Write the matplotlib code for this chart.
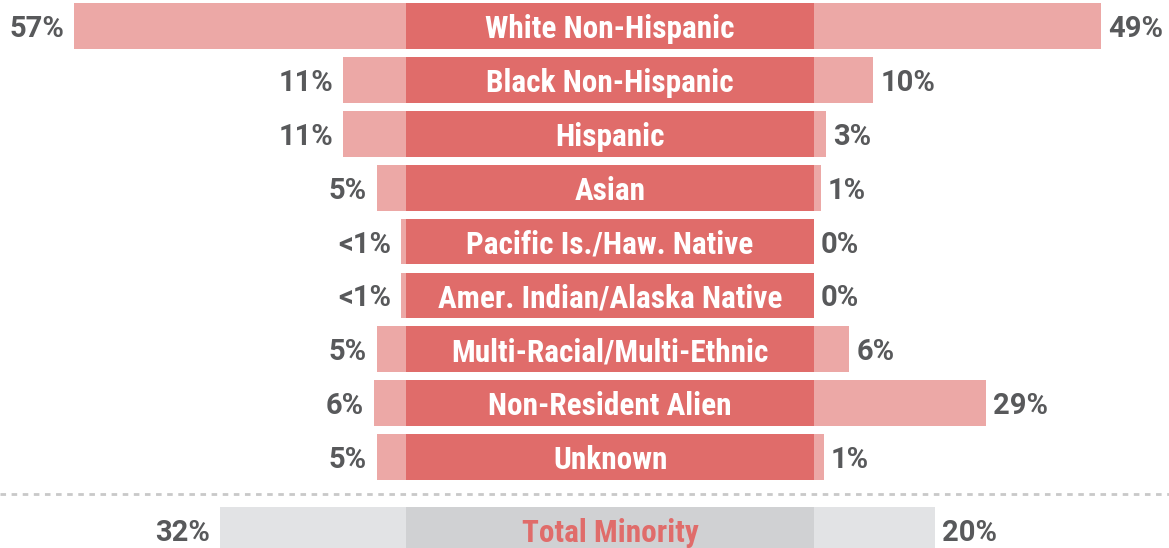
import matplotlib
matplotlib.use("Agg")
import matplotlib.pyplot as plt

# categories, top to bottom
groups = ['White Non-Hispanic', 'Black Non-Hispanic', 'Hispanic', 'Asian',
          'Pacific Is./Haw. Native', 'Amer. Indian/Alaska Native',
          'Multi-Racial/Multi-Ethnic', 'Non-Resident Alien', 'Unknown']

# left side (bar lengths, in %) and printed labels
left_vals = [56.8, 10.8, 10.8, 5.0, 0.85, 0.85, 5.0, 5.5, 5.0]
left_labels = ['57%', '11%', '11%', '5%', '<1%', '<1%', '5%', '6%', '5%']

# right side
right_vals = [49.1, 10.1, 2.1, 1.2, 0.0, 0.0, 6.0, 29.4, 1.7]
right_labels = ['49%', '10%', '3%', '1%', '0%', '0%', '6%', '29%', '1%']

# total minority row
total_name = 'Total Minority'
total_left, total_right = 31.8, 20.7
total_left_label, total_right_label = '32%', '20%'

DARK = '#E06C6A'
LIGHT = '#ECA8A6'
TXT = '#58595B'
GREY_SIDE = '#E2E3E5'
GREY_MID = '#D0D1D3'

plt.rcParams['font.family'] = ['Roboto Condensed', 'DejaVu Sans']
NAME_FONT = dict(family=['Roboto Condensed', 'DejaVu Sans'], fontsize=22.5, fontweight='bold')
PCT_FONT = dict(family=['Roboto', 'DejaVu Sans'], fontsize=21, fontweight='bold')

fig = plt.figure(figsize=(11.69, 5.48), dpi=100)
ax = fig.add_axes([0, 0, 1, 1])

band = 69.74   # width of the central name band, in % units
h = 0.85
rows = list(range(len(groups)))

ax.barh(rows, [-v for v in left_vals], left=0, height=h, color=LIGHT, linewidth=0)
ax.barh(rows, right_vals, left=band, height=h, color=LIGHT, linewidth=0)
ax.barh(rows, band, left=0, height=h, color=DARK, linewidth=0)


def side_labels(y, lv, rv, ltxt, rtxt):
    ax.annotate(ltxt, (-lv, y), xytext=(-7, 0), textcoords='offset points',
                ha='right', va='center_baseline', color=TXT, **PCT_FONT)
    ax.annotate(rtxt, (band + rv, y), xytext=(5, 0), textcoords='offset points',
                ha='left', va='center_baseline', color=TXT, **PCT_FONT)


for i, name in enumerate(groups):
    ax.text(band / 2, i, name, ha='center', va='center_baseline', color='white', **NAME_FONT)
    side_labels(i, left_vals[i], right_vals[i], left_labels[i], right_labels[i])

# separator
ax.axhline(8.68, color='#C9C9C9', lw=2, linestyle=(0, (2, 2)))

# total minority
ty = 9.35
ax.barh([ty], [-total_left], left=0, height=h, color=GREY_SIDE, linewidth=0)
ax.barh([ty], [total_right], left=band, height=h, color=GREY_SIDE, linewidth=0)
ax.barh([ty], [band], left=0, height=h, color=GREY_MID, linewidth=0)
ax.text(band / 2, ty, total_name, ha='center', va='center_baseline', color=DARK, **NAME_FONT)
side_labels(ty, total_left, total_right, total_left_label, total_right_label)

ax.set_xlim(-69.4, 130.4)
ax.set_ylim(9.685, -0.482)
ax.axis('off')

fig.savefig('out.png', dpi=100)
